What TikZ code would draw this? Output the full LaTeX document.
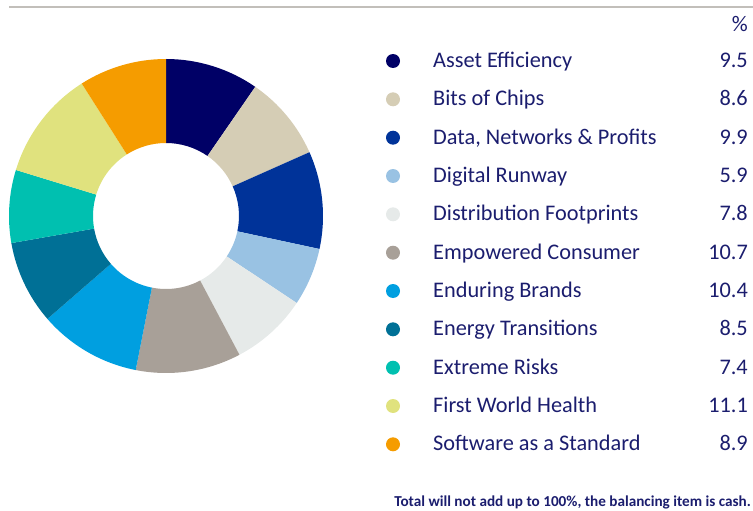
\documentclass[tikz,border=0pt]{standalone}
\usepackage{fontspec}
\setmainfont{Carlito}
\usepackage{tikz}

\definecolor{ink}{HTML}{1B1D6E}
\definecolor{rulegrey}{HTML}{C2BFBA}
\definecolor{cAE}{HTML}{000066}
\definecolor{cBC}{HTML}{D5CDB5}
\definecolor{cDN}{HTML}{003399}
\definecolor{cDR}{HTML}{99C2E3}
\definecolor{cDF}{HTML}{E6EAE9}
\definecolor{cEC}{HTML}{A8A098}
\definecolor{cEB}{HTML}{009FE0}
\definecolor{cET}{HTML}{007096}
\definecolor{cER}{HTML}{00C0B0}
\definecolor{cFW}{HTML}{E0E27E}
\definecolor{cSS}{HTML}{F59C00}

\begin{document}
\begin{tikzpicture}
                [
                x=1pt, y=-1pt,
                dot/.style={circle,inner sep=0pt,minimum size=14pt},
                lbl/.style={anchor=base west,inner sep=0pt,text=ink,font=\fontsize{22.3}{26}\selectfont},
                val/.style={anchor=base east,inner sep=0pt,text=ink,font=\fontsize{22.3}{26}\selectfont},
                note/.style={anchor=base east,inner sep=0pt,text=ink,font=\bfseries\fontsize{15.2}{17}\selectfont}
                ]
            \useasboundingbox (0,0) rectangle (753,511);
            \coordinate (top0) at (9,7);
            \coordinate (top1) at (753,7);
            \draw[rulegrey,line width=2pt] (top0) -- (top1);
            % donut
            \coordinate (ctr) at (166,216);
            \fill[cAE] ([shift=(90:157pt)]ctr) arc[start angle=90,end angle=55.35,radius=157pt] -- ([shift=(55.35:73pt)]ctr) arc[start angle=55.35,end angle=90,radius=73pt] -- cycle;
            \fill[cBC] ([shift=(55.35:157pt)]ctr) arc[start angle=55.35,end angle=23.98,radius=157pt] -- ([shift=(23.98:73pt)]ctr) arc[start angle=23.98,end angle=55.35,radius=73pt] -- cycle;
            \fill[cDN] ([shift=(23.98:157pt)]ctr) arc[start angle=23.98,end angle=-12.13,radius=157pt] -- ([shift=(-12.13:73pt)]ctr) arc[start angle=-12.13,end angle=23.98,radius=73pt] -- cycle;
            \fill[cDR] ([shift=(-12.13:157pt)]ctr) arc[start angle=-12.13,end angle=-33.65,radius=157pt] -- ([shift=(-33.65:73pt)]ctr) arc[start angle=-33.65,end angle=-12.13,radius=73pt] -- cycle;
            \fill[cDF] ([shift=(-33.65:157pt)]ctr) arc[start angle=-33.65,end angle=-62.10,radius=157pt] -- ([shift=(-62.10:73pt)]ctr) arc[start angle=-62.10,end angle=-33.65,radius=73pt] -- cycle;
            \fill[cEC] ([shift=(-62.10:157pt)]ctr) arc[start angle=-62.10,end angle=-101.13,radius=157pt] -- ([shift=(-101.13:73pt)]ctr) arc[start angle=-101.13,end angle=-62.10,radius=73pt] -- cycle;
            \fill[cEB] ([shift=(-101.13:157pt)]ctr) arc[start angle=-101.13,end angle=-139.06,radius=157pt] -- ([shift=(-139.06:73pt)]ctr) arc[start angle=-139.06,end angle=-101.13,radius=73pt] -- cycle;
            \fill[cET] ([shift=(-139.06:157pt)]ctr) arc[start angle=-139.06,end angle=-170.06,radius=157pt] -- ([shift=(-170.06:73pt)]ctr) arc[start angle=-170.06,end angle=-139.06,radius=73pt] -- cycle;
            \fill[cER] ([shift=(-170.06:157pt)]ctr) arc[start angle=-170.06,end angle=-197.05,radius=157pt] -- ([shift=(-197.05:73pt)]ctr) arc[start angle=-197.05,end angle=-170.06,radius=73pt] -- cycle;
            \fill[cFW] ([shift=(-197.05:157pt)]ctr) arc[start angle=-197.05,end angle=-237.54,radius=157pt] -- ([shift=(-237.54:73pt)]ctr) arc[start angle=-237.54,end angle=-197.05,radius=73pt] -- cycle;
            \fill[cSS] ([shift=(-237.54:157pt)]ctr) arc[start angle=-237.54,end angle=-270,radius=157pt] -- ([shift=(-270:73pt)]ctr) arc[start angle=-270,end angle=-237.54,radius=73pt] -- cycle;
            % legend
            \node[val] (pct) at (748,32) {\%};
            \node[dot,fill=cAE] (d1) at (393,61) {};
            \node[lbl] (t1) at (433,67.5) {Asset Efficiency};
            \node[val] (v1) at (748,67.5) {9.5};
            \node[dot,fill=cBC] (d2) at (393,99.3) {};
            \node[lbl] (t2) at (433,105.8) {Bits of Chips};
            \node[val] (v2) at (748,105.8) {8.6};
            \node[dot,fill=cDN] (d3) at (393,137.7) {};
            \node[lbl] (t3) at (433,144.2) {Data, Networks \& Profits};
            \node[val] (v3) at (748,144.2) {9.9};
            \node[dot,fill=cDR] (d4) at (393,176) {};
            \node[lbl] (t4) at (433,182.5) {Digital Runway};
            \node[val] (v4) at (748,182.5) {5.9};
            \node[dot,fill=cDF] (d5) at (393,214.3) {};
            \node[lbl] (t5) at (433,220.8) {Distribution Footprints};
            \node[val] (v5) at (748,220.8) {7.8};
            \node[dot,fill=cEC] (d6) at (393,252.7) {};
            \node[lbl] (t6) at (433,259.2) {Empowered Consumer};
            \node[val] (v6) at (748,259.2) {10.7};
            \node[dot,fill=cEB] (d7) at (393,291) {};
            \node[lbl] (t7) at (433,297.5) {Enduring Brands};
            \node[val] (v7) at (748,297.5) {10.4};
            \node[dot,fill=cET] (d8) at (393,329.3) {};
            \node[lbl] (t8) at (433,335.8) {Energy Transitions};
            \node[val] (v8) at (748,335.8) {8.5};
            \node[dot,fill=cER] (d9) at (393,367.7) {};
            \node[lbl] (t9) at (433,374.2) {Extreme Risks};
            \node[val] (v9) at (748,374.2) {7.4};
            \node[dot,fill=cFW] (d10) at (393,406) {};
            \node[lbl] (t10) at (433,412.5) {First World Health};
            \node[val] (v10) at (748,412.5) {11.1};
            \node[dot,fill=cSS] (d11) at (393,444.3) {};
            \node[lbl] (t11) at (433,450.8) {Software as a Standard};
            \node[val] (v11) at (748,450.8) {8.9};
            % footnote
            \node[note] (foot) at (751,506.5) {Total will not add up to 100\%, the balancing item is cash.};
            \end{tikzpicture}
\end{document}
